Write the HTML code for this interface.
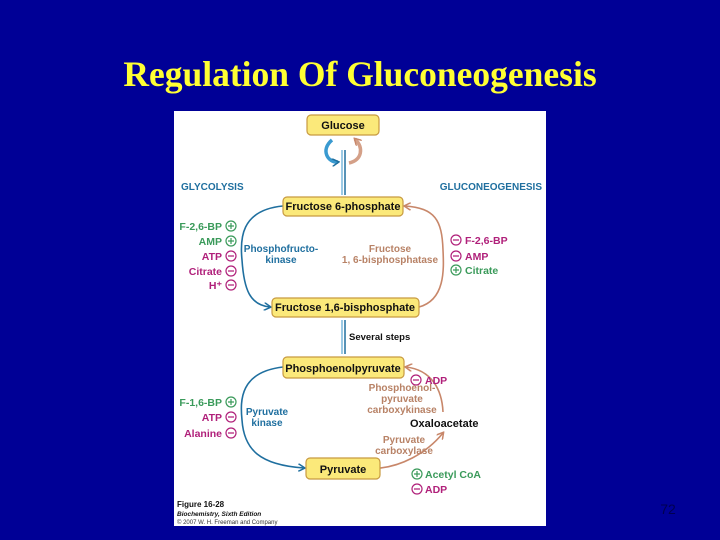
<!DOCTYPE html>
<html><head><meta charset="utf-8"><style>
html,body{margin:0;padding:0;background:#000096;width:720px;height:540px;overflow:hidden}
</style></head><body>
<svg width="720" height="540" xmlns="http://www.w3.org/2000/svg" style="position:absolute;left:0;top:0">
<defs>
<marker id="ab" markerWidth="8" markerHeight="8" refX="6" refY="4" orient="auto" markerUnits="userSpaceOnUse"><path d="M0,0 L7,4 L0,8" fill="none" stroke="#1f6f9f" stroke-width="1.5"/></marker>
<marker id="ao" markerWidth="8" markerHeight="8" refX="6" refY="4" orient="auto" markerUnits="userSpaceOnUse"><path d="M0,0 L7,4 L0,8" fill="none" stroke="#c8876a" stroke-width="1.5"/></marker>
</defs>
<text x="360" y="86" text-anchor="middle" font-family="Liberation Serif, serif" font-weight="bold" font-size="35.5" fill="#ffff33">Regulation Of Gluconeogenesis</text>
<rect x="174" y="111" width="372" height="415" fill="#ffffff"/>
<g font-family="Liberation Sans, sans-serif" font-weight="bold">
<path d="M332,140 C320,150 328,163 338,162" fill="none" stroke="#3a9ad0" stroke-width="3.5" marker-end="url(#ab)"/>
<path d="M349,163 C362,160 364,148 355,139" fill="none" stroke="#d4a088" stroke-width="3.5" marker-end="url(#ao)"/>
<line x1="342" y1="150" x2="342" y2="195" stroke="#7ab8dc" stroke-width="1.5"/>
<line x1="345" y1="150" x2="345" y2="195" stroke="#1f6f9f" stroke-width="1.5"/>
<path d="M283,206 C240,210 240,240 242,260 C244,290 250,305 270,307" fill="none" stroke="#1f6f9f" stroke-width="1.6" marker-end="url(#ab)"/>
<path d="M419,307 C445,300 444,270 443,250 C442,220 435,208 405,206" fill="none" stroke="#c8876a" stroke-width="1.6" marker-end="url(#ao)"/>
<line x1="342" y1="320" x2="342" y2="354" stroke="#7ab8dc" stroke-width="1.5"/>
<line x1="345" y1="320" x2="345" y2="354" stroke="#1f6f9f" stroke-width="1.5"/>
<path d="M283,367 C240,372 240,400 242,420 C244,450 260,465 304,468" fill="none" stroke="#1f6f9f" stroke-width="1.6" marker-end="url(#ab)"/>
<path d="M380,468 C400,466 425,455 443,433" fill="none" stroke="#c8876a" stroke-width="1.6" marker-end="url(#ao)"/>
<path d="M443,412 C442,390 432,370 406,367" fill="none" stroke="#c8876a" stroke-width="1.6" marker-end="url(#ao)"/>
<g fill="#fbe97a" stroke="#c89a40" stroke-width="1.2">
<rect x="307" y="115" width="72" height="20" rx="4"/>
<rect x="283" y="197" width="120" height="19" rx="4"/>
<rect x="272" y="298" width="147" height="19" rx="4"/>
<rect x="283" y="357" width="121" height="21" rx="4"/>
<rect x="306" y="458" width="74" height="21" rx="4"/>
</g>
<g font-size="11" fill="#111" text-anchor="middle">
<text x="343" y="129">Glucose</text>
<text x="343" y="210">Fructose 6-phosphate</text>
<text x="345" y="311">Fructose 1,6-bisphosphate</text>
<text x="343" y="372">Phosphoenolpyruvate</text>
<text x="343" y="473">Pyruvate</text>
</g>
<g font-size="10" fill="#1f6f9f">
<text x="181" y="190">GLYCOLYSIS</text>
<text x="542" y="190" text-anchor="end">GLUCONEOGENESIS</text>
<text x="281" y="252" text-anchor="middle">Phosphofructo-</text>
<text x="281" y="263" text-anchor="middle">kinase</text>
<text x="267" y="415" text-anchor="middle">Pyruvate</text>
<text x="267" y="426" text-anchor="middle">kinase</text>
</g>
<g font-size="10" fill="#b88266" text-anchor="middle">
<text x="390" y="252">Fructose</text>
<text x="390" y="263">1, 6-bisphosphatase</text>
<text x="402" y="391">Phosphoenol-</text>
<text x="402" y="402">pyruvate</text>
<text x="402" y="413">carboxykinase</text>
<text x="404" y="443">Pyruvate</text>
<text x="404" y="454">carboxylase</text>
</g>
<text x="410" y="427" font-size="11" fill="#111">Oxaloacetate</text>
<text x="349" y="340" font-size="9.5" fill="#111">Several steps</text>
<g font-size="10.5" text-anchor="end">
<text x="222" y="230" fill="#3a9a5a">F-2,6-BP</text>
<text x="222" y="245" fill="#3a9a5a">AMP</text>
<text x="222" y="260" fill="#b0207a">ATP</text>
<text x="222" y="275" fill="#b0207a">Citrate</text>
<text x="222" y="289" fill="#b0207a">H⁺</text>
<text x="222" y="406" fill="#3a9a5a">F-1,6-BP</text>
<text x="222" y="421" fill="#b0207a">ATP</text>
<text x="222" y="437" fill="#b0207a">Alanine</text>
</g>
<g font-size="10.5">
<text x="465" y="244" fill="#b0207a">F-2,6-BP</text>
<text x="465" y="260" fill="#b0207a">AMP</text>
<text x="465" y="274" fill="#3a9a5a">Citrate</text>
<text x="425" y="384" fill="#b0207a">ADP</text>
<text x="425" y="478" fill="#3a9a5a">Acetyl CoA</text>
<text x="425" y="493" fill="#b0207a">ADP</text>
</g>
<g fill="none" stroke-width="1.2">
<circle cx="231" cy="226" r="5" stroke="#3a9a5a"/><circle cx="231" cy="241" r="5" stroke="#3a9a5a"/>
<circle cx="231" cy="256" r="5" stroke="#b0207a"/><circle cx="231" cy="271" r="5" stroke="#b0207a"/><circle cx="231" cy="285" r="5" stroke="#b0207a"/>
<circle cx="231" cy="402" r="5" stroke="#3a9a5a"/><circle cx="231" cy="417" r="5" stroke="#b0207a"/><circle cx="231" cy="433" r="5" stroke="#b0207a"/>
<circle cx="456" cy="240" r="5" stroke="#b0207a"/><circle cx="456" cy="256" r="5" stroke="#b0207a"/><circle cx="456" cy="270" r="5" stroke="#3a9a5a"/>
<circle cx="416" cy="380" r="5" stroke="#b0207a"/><circle cx="417" cy="474" r="5" stroke="#3a9a5a"/><circle cx="417" cy="489" r="5" stroke="#b0207a"/>
</g>
<g stroke-width="1.2">
<path d="M228,226h6M231,223v6M228,241h6M231,238v6M228,402h6M231,399v6M453,270h6M456,267v6M414,474h6M417,471v6" stroke="#3a9a5a"/>
<path d="M228,256h6M228,271h6M228,285h6M228,417h6M228,433h6M453,240h6M453,256h6M413,380h6M414,489h6" stroke="#b0207a"/>
</g>
<text x="177" y="507" font-size="8" fill="#111">Figure 16-28</text>
<text x="177" y="516" font-size="6.5" font-style="italic" fill="#111">Biochemistry, Sixth Edition</text>
<text x="177" y="524" font-size="6" font-weight="normal" fill="#333">© 2007 W. H. Freeman and Company</text>
</g>
<text x="668" y="514" text-anchor="middle" font-family="Liberation Sans, sans-serif" font-size="14" fill="#000050">72</text>
</svg>
</body></html>
